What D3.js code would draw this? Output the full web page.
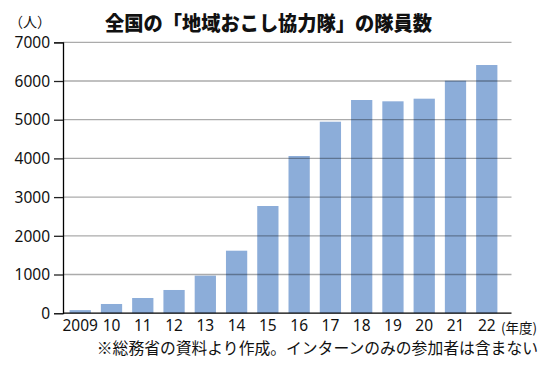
<!DOCTYPE html>
<html><head><meta charset="utf-8">
<script src="https://cdn.jsdelivr.net/npm/d3@7"></script>
<style>
html,body{margin:0;padding:0;background:#fff;}
svg{display:block;}
</style></head>
<body>
<svg id="chart" width="550" height="367"></svg>
<script>
const years = ["2009","10","11","12","13","14","15","16","17","18","19","20","21","22"];
const members = [80, 238, 393, 600, 970, 1615, 2770, 4062, 4948, 5509, 5475, 5543, 6008, 6413];
const yTicks = [0,1000,2000,3000,4000,5000,6000,7000];
const titleText = "全国の「地域おこし協力隊」の隊員数";
const unitText = "（人）";
const yearUnit = "(年度)";
const noteText = "※総務省の資料より作成。インターンのみの参加者は含まない";

const svg = d3.select("#chart");
const latin = "'Noto Sans','Open Sans',sans-serif";
const cjk = "'Noto Sans CJK JP','Noto Sans',sans-serif";

const axisX = 63, gridRight = 511.5;
const y = d3.scaleLinear().domain([0,7000]).range([313.2, 42.3]);
const x = d3.scaleBand().domain(years).range([64.6, 502.4]).paddingInner(0.32).paddingOuter(0.16);

// bars
svg.append("g").selectAll("rect").data(years).join("rect")
  .attr("x", d => x(d))
  .attr("width", x.bandwidth())
  .attr("y", (d,i) => y(members[i]))
  .attr("height", (d,i) => y(0) - y(members[i]))
  .attr("fill", "#8CADD9");

// gridlines (drawn above bars)
svg.append("g").selectAll("line").data(yTicks.filter(t => t > 0)).join("line")
  .attr("x1", axisX).attr("x2", gridRight)
  .attr("y1", d => y(d)).attr("y2", d => y(d))
  .attr("stroke", "#000").attr("stroke-opacity", 0.33).attr("stroke-width", 1.3);

// y axis
const yAxis = svg.append("g").attr("transform", `translate(${axisX},0)`)
  .call(d3.axisLeft(y).tickValues(yTicks).tickSize(9).tickPadding(4).tickFormat(d3.format("d")));
yAxis.select(".domain").attr("stroke", "#000").attr("stroke-width", 1.3);
yAxis.selectAll(".tick line").attr("stroke", "#222").attr("stroke-width", 1.3);
yAxis.selectAll(".tick text").attr("font-family", latin).attr("font-size", 15.5).attr("fill", "#111")
  .attr("dy", "0.34em");

// x axis
const xAxis = svg.append("g").attr("transform", `translate(0,${y(0)})`)
  .call(d3.axisBottom(x).tickSize(0).tickPadding(7));
xAxis.select(".domain").attr("d", `M${axisX},0H${gridRight}`).attr("stroke", "#000").attr("stroke-width", 1.3);
xAxis.selectAll(".tick text").attr("font-family", latin).attr("font-size", 15.5).attr("fill", "#111")
  .attr("dy", "0.71em");

// year unit
svg.append("text").attr("x", 501).attr("y", 332.5).text(yearUnit)
  .attr("font-family", cjk).attr("font-size", 13.5).attr("fill", "#111");

// unit
svg.append("text").attr("x", 9).attr("y", 27).text(unitText)
  .attr("font-family", cjk).attr("font-size", 14).attr("fill", "#111");

// title
svg.append("text").attr("x", 268.5).attr("y", 31).attr("text-anchor", "middle").text(titleText)
  .attr("font-family", cjk).attr("font-size", 20).attr("font-weight", "900")
  .attr("textLength", 327).attr("lengthAdjust", "spacingAndGlyphs").attr("fill", "#111");

// note
svg.append("text").attr("x", 538).attr("y", 353.5).attr("text-anchor", "end").text(noteText)
  .attr("font-family", cjk).attr("font-size", 15.8).attr("fill", "#111");
</script>
</body></html>
